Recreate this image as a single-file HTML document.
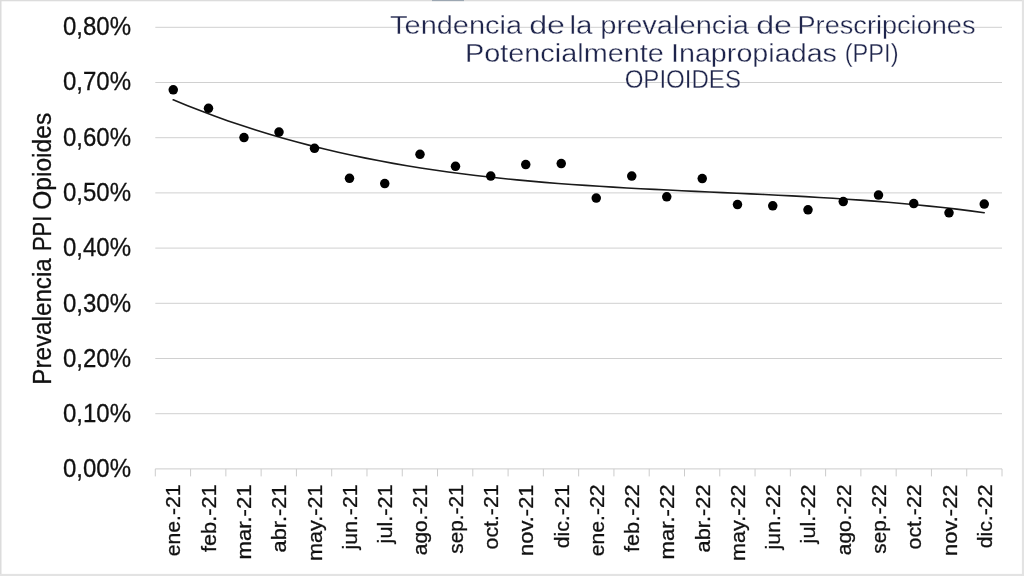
<!DOCTYPE html>
<html lang="es">
<head>
<meta charset="utf-8">
<title>Tendencia de la prevalencia de PPI - Opioides</title>
<style>
html,body{margin:0;padding:0;background:#fff;}
body{width:1024px;height:576px;overflow:hidden;}
svg{display:block;will-change:transform;}
text{font-family:"Liberation Sans",sans-serif;}
.ax{fill:#111111;stroke:#111111;stroke-width:0.3px;}
.ttl{fill:#1e244b;stroke:#ffffff;stroke-width:0.32px;}
</style>
</head>
<body>
<svg width="1024" height="576" viewBox="0 0 1024 576">
<rect x="0" y="0" width="1024" height="576" fill="#ffffff"/>
<g stroke="#d0d0d0" stroke-width="1.0" fill="none">
<line x1="155.3" y1="27.30" x2="1002.0" y2="27.30"/>
<line x1="155.3" y1="82.50" x2="1002.0" y2="82.50"/>
<line x1="155.3" y1="137.70" x2="1002.0" y2="137.70"/>
<line x1="155.3" y1="192.90" x2="1002.0" y2="192.90"/>
<line x1="155.3" y1="248.10" x2="1002.0" y2="248.10"/>
<line x1="155.3" y1="303.30" x2="1002.0" y2="303.30"/>
<line x1="155.3" y1="358.50" x2="1002.0" y2="358.50"/>
<line x1="155.3" y1="413.70" x2="1002.0" y2="413.70"/>
</g>
<g stroke="#cccccc" stroke-width="1.0" fill="none">
<line x1="155.3" y1="468.90" x2="1002.0" y2="468.90"/>
<line x1="155.30" y1="468.90" x2="155.30" y2="476.40"/>
<line x1="190.58" y1="468.90" x2="190.58" y2="476.40"/>
<line x1="225.86" y1="468.90" x2="225.86" y2="476.40"/>
<line x1="261.14" y1="468.90" x2="261.14" y2="476.40"/>
<line x1="296.42" y1="468.90" x2="296.42" y2="476.40"/>
<line x1="331.70" y1="468.90" x2="331.70" y2="476.40"/>
<line x1="366.98" y1="468.90" x2="366.98" y2="476.40"/>
<line x1="402.25" y1="468.90" x2="402.25" y2="476.40"/>
<line x1="437.53" y1="468.90" x2="437.53" y2="476.40"/>
<line x1="472.81" y1="468.90" x2="472.81" y2="476.40"/>
<line x1="508.09" y1="468.90" x2="508.09" y2="476.40"/>
<line x1="543.37" y1="468.90" x2="543.37" y2="476.40"/>
<line x1="578.65" y1="468.90" x2="578.65" y2="476.40"/>
<line x1="613.93" y1="468.90" x2="613.93" y2="476.40"/>
<line x1="649.21" y1="468.90" x2="649.21" y2="476.40"/>
<line x1="684.49" y1="468.90" x2="684.49" y2="476.40"/>
<line x1="719.77" y1="468.90" x2="719.77" y2="476.40"/>
<line x1="755.05" y1="468.90" x2="755.05" y2="476.40"/>
<line x1="790.33" y1="468.90" x2="790.33" y2="476.40"/>
<line x1="825.60" y1="468.90" x2="825.60" y2="476.40"/>
<line x1="860.88" y1="468.90" x2="860.88" y2="476.40"/>
<line x1="896.16" y1="468.90" x2="896.16" y2="476.40"/>
<line x1="931.44" y1="468.90" x2="931.44" y2="476.40"/>
<line x1="966.72" y1="468.90" x2="966.72" y2="476.40"/>
<line x1="1002.00" y1="468.90" x2="1002.00" y2="476.40"/>
</g>
<path d="M173.2,99.79 L187.0,105.44 L200.7,110.83 L214.5,115.98 L228.2,120.88 L242.0,125.55 L255.7,130.00 L269.5,134.22 L283.2,138.22 L297.0,142.02 L310.7,145.62 L324.5,149.02 L338.2,152.23 L351.9,155.27 L365.7,158.12 L379.4,160.81 L393.2,163.34 L406.9,165.71 L420.7,167.93 L434.4,170.01 L448.2,171.96 L461.9,173.77 L475.7,175.47 L489.4,177.05 L503.1,178.52 L516.9,179.89 L530.6,181.16 L544.4,182.34 L558.1,183.44 L571.9,184.46 L585.6,185.42 L599.4,186.31 L613.1,187.15 L626.9,187.93 L640.6,188.68 L654.4,189.39 L668.1,190.06 L681.8,190.72 L695.6,191.36 L709.3,191.99 L723.1,192.61 L736.8,193.24 L750.6,193.88 L764.3,194.53 L778.1,195.21 L791.8,195.92 L805.6,196.67 L819.3,197.45 L833.0,198.29 L846.8,199.19 L860.5,200.14 L874.3,201.17 L888.0,202.27 L901.8,203.45 L915.5,204.73 L929.3,206.10 L943.0,207.57 L956.8,209.15 L970.5,210.85 L984.2,212.67" fill="none" stroke="#1a1a1a" stroke-width="1.6" stroke-linecap="round"/>
<g fill="#000000">
<circle cx="173.25" cy="89.8" r="4.75"/>
<circle cx="208.5" cy="108.3" r="4.75"/>
<circle cx="244.0" cy="137.55" r="4.75"/>
<circle cx="279.0" cy="132.05" r="4.75"/>
<circle cx="314.5" cy="148.3" r="4.75"/>
<circle cx="349.5" cy="178.3" r="4.75"/>
<circle cx="384.75" cy="183.55" r="4.75"/>
<circle cx="420.0" cy="154.3" r="4.75"/>
<circle cx="455.5" cy="166.3" r="4.75"/>
<circle cx="490.75" cy="176.05" r="4.75"/>
<circle cx="525.75" cy="164.55" r="4.75"/>
<circle cx="561.25" cy="163.55" r="4.75"/>
<circle cx="596.25" cy="198.05" r="4.75"/>
<circle cx="631.75" cy="176.05" r="4.75"/>
<circle cx="666.75" cy="196.8" r="4.75"/>
<circle cx="702.25" cy="178.55" r="4.75"/>
<circle cx="737.5" cy="204.55" r="4.75"/>
<circle cx="772.75" cy="205.8" r="4.75"/>
<circle cx="808.0" cy="209.8" r="4.75"/>
<circle cx="843.25" cy="201.55" r="4.75"/>
<circle cx="878.5" cy="195.05" r="4.75"/>
<circle cx="913.75" cy="203.55" r="4.75"/>
<circle cx="949.0" cy="212.8" r="4.75"/>
<circle cx="984.25" cy="204.05" r="4.75"/>
</g>
<g class="ax" font-size="25.3">
<text x="63" y="35.10" textLength="68" lengthAdjust="spacingAndGlyphs">0,80%</text>
<text x="63" y="90.38" textLength="68" lengthAdjust="spacingAndGlyphs">0,70%</text>
<text x="63" y="145.66" textLength="68" lengthAdjust="spacingAndGlyphs">0,60%</text>
<text x="63" y="200.94" textLength="68" lengthAdjust="spacingAndGlyphs">0,50%</text>
<text x="63" y="256.22" textLength="68" lengthAdjust="spacingAndGlyphs">0,40%</text>
<text x="63" y="311.50" textLength="68" lengthAdjust="spacingAndGlyphs">0,30%</text>
<text x="63" y="366.78" textLength="68" lengthAdjust="spacingAndGlyphs">0,20%</text>
<text x="63" y="422.06" textLength="68" lengthAdjust="spacingAndGlyphs">0,10%</text>
<text x="63" y="477.34" textLength="68" lengthAdjust="spacingAndGlyphs">0,00%</text>
</g>
<g class="ax" font-size="20.25">
<text transform="translate(180.44,484.5) rotate(-90)" text-anchor="end" textLength="71.8" lengthAdjust="spacingAndGlyphs">ene.-21</text>
<text transform="translate(215.72,484.5) rotate(-90)" text-anchor="end" textLength="67.5" lengthAdjust="spacingAndGlyphs">feb.-21</text>
<text transform="translate(251.00,484.5) rotate(-90)" text-anchor="end" textLength="75.0" lengthAdjust="spacingAndGlyphs">mar.-21</text>
<text transform="translate(286.28,484.5) rotate(-90)" text-anchor="end" textLength="67.9" lengthAdjust="spacingAndGlyphs">abr.-21</text>
<text transform="translate(321.56,484.5) rotate(-90)" text-anchor="end" textLength="76.5" lengthAdjust="spacingAndGlyphs">may.-21</text>
<text transform="translate(356.84,484.5) rotate(-90)" text-anchor="end" textLength="64.9" lengthAdjust="spacingAndGlyphs">jun.-21</text>
<text transform="translate(392.11,484.5) rotate(-90)" text-anchor="end" textLength="58.9" lengthAdjust="spacingAndGlyphs">jul.-21</text>
<text transform="translate(427.39,484.5) rotate(-90)" text-anchor="end" textLength="70.7" lengthAdjust="spacingAndGlyphs">ago.-21</text>
<text transform="translate(462.67,484.5) rotate(-90)" text-anchor="end" textLength="69.2" lengthAdjust="spacingAndGlyphs">sep.-21</text>
<text transform="translate(497.95,484.5) rotate(-90)" text-anchor="end" textLength="64.9" lengthAdjust="spacingAndGlyphs">oct.-21</text>
<text transform="translate(533.23,484.5) rotate(-90)" text-anchor="end" textLength="71.4" lengthAdjust="spacingAndGlyphs">nov.-21</text>
<text transform="translate(568.51,484.5) rotate(-90)" text-anchor="end" textLength="63.8" lengthAdjust="spacingAndGlyphs">dic.-21</text>
<text transform="translate(603.79,484.5) rotate(-90)" text-anchor="end" textLength="71.8" lengthAdjust="spacingAndGlyphs">ene.-22</text>
<text transform="translate(639.07,484.5) rotate(-90)" text-anchor="end" textLength="67.5" lengthAdjust="spacingAndGlyphs">feb.-22</text>
<text transform="translate(674.35,484.5) rotate(-90)" text-anchor="end" textLength="75.0" lengthAdjust="spacingAndGlyphs">mar.-22</text>
<text transform="translate(709.63,484.5) rotate(-90)" text-anchor="end" textLength="67.9" lengthAdjust="spacingAndGlyphs">abr.-22</text>
<text transform="translate(744.91,484.5) rotate(-90)" text-anchor="end" textLength="76.5" lengthAdjust="spacingAndGlyphs">may.-22</text>
<text transform="translate(780.19,484.5) rotate(-90)" text-anchor="end" textLength="64.9" lengthAdjust="spacingAndGlyphs">jun.-22</text>
<text transform="translate(815.46,484.5) rotate(-90)" text-anchor="end" textLength="58.9" lengthAdjust="spacingAndGlyphs">jul.-22</text>
<text transform="translate(850.74,484.5) rotate(-90)" text-anchor="end" textLength="70.7" lengthAdjust="spacingAndGlyphs">ago.-22</text>
<text transform="translate(886.02,484.5) rotate(-90)" text-anchor="end" textLength="69.2" lengthAdjust="spacingAndGlyphs">sep.-22</text>
<text transform="translate(921.30,484.5) rotate(-90)" text-anchor="end" textLength="64.9" lengthAdjust="spacingAndGlyphs">oct.-22</text>
<text transform="translate(956.58,484.5) rotate(-90)" text-anchor="end" textLength="71.4" lengthAdjust="spacingAndGlyphs">nov.-22</text>
<text transform="translate(991.86,484.5) rotate(-90)" text-anchor="end" textLength="63.8" lengthAdjust="spacingAndGlyphs">dic.-22</text>
</g>
<text class="ax" font-size="25.2" transform="translate(50.6,0) rotate(-90)"><tspan x="-384.7" textLength="126.5" lengthAdjust="spacingAndGlyphs">Prevalencia</tspan> <tspan x="-251.1" textLength="35.4" lengthAdjust="spacingAndGlyphs">PPI</tspan> <tspan x="-209.8" textLength="97.0" lengthAdjust="spacingAndGlyphs">Opioides</tspan></text>
<g class="ttl" font-size="26.2">
<text y="34.0"><tspan x="390.1" textLength="131.91" lengthAdjust="spacingAndGlyphs">Tendencia</tspan> <tspan x="529.2" textLength="35.81" lengthAdjust="spacingAndGlyphs">de</tspan> <tspan x="569.4" textLength="22.99" lengthAdjust="spacingAndGlyphs">la</tspan> <tspan x="600.3" textLength="148.73" lengthAdjust="spacingAndGlyphs">prevalencia</tspan> <tspan x="756.2" textLength="35.81" lengthAdjust="spacingAndGlyphs">de</tspan> <tspan x="797.5" textLength="178.0" lengthAdjust="spacingAndGlyphs">Prescripciones</tspan></text>
<text y="62.1"><tspan x="464.95" textLength="198.92" lengthAdjust="spacingAndGlyphs">Potencialmente</tspan> <tspan x="670.95" textLength="166.03" lengthAdjust="spacingAndGlyphs">Inapropiadas</tspan> <tspan x="844.75" textLength="53.75" lengthAdjust="spacingAndGlyphs">(PPI)</tspan></text>
<text y="88.05"><tspan x="624.65" textLength="116.29" lengthAdjust="spacingAndGlyphs">OPIOIDES</tspan></text>
</g>
<g fill="#dcdcdc">
<rect x="0" y="0" width="1024" height="1.3"/>
<rect x="0" y="0" width="1.5" height="576"/>
</g>
<g fill="#e3e3e3">
<rect x="0" y="573.9" width="1024" height="2.1"/>
<rect x="1021.9" y="0" width="2.1" height="576"/>
</g>
<rect x="432" y="0" width="32" height="1.1" fill="#9ca7b2"/>
</svg>
</body>
</html>
